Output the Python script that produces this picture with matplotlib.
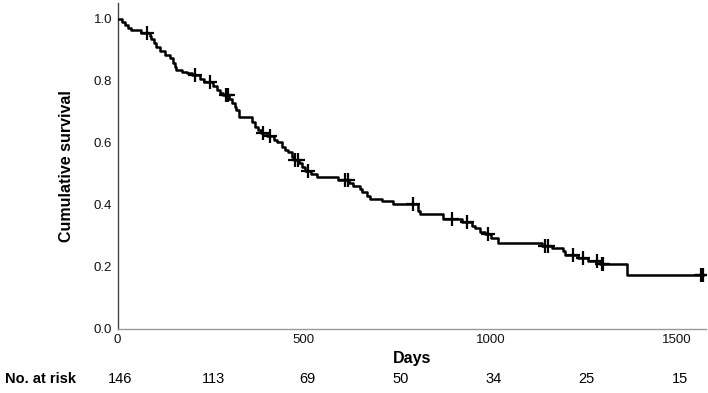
import numpy as np
import matplotlib
matplotlib.use("Agg")
import matplotlib.pyplot as plt
import matplotlib.transforms as mtransforms

plt.rcParams['font.family'] = ['Liberation Sans', 'DejaVu Sans']

# Kaplan-Meier step data (day of event, survival after event)
step_days = [0, 11, 19, 27, 35, 64, 86, 91, 97, 102, 113, 126, 140, 148, 153, 158,
             172, 185, 199, 220, 233, 255, 266, 274, 282, 298, 306, 314, 319, 327,
             360, 368, 378, 386, 400, 419, 427, 440, 448, 456, 467, 472, 488, 496,
             504, 518, 534, 590, 622, 631, 649, 657, 668, 676, 708, 738, 805, 810,
             872, 923, 950, 958, 971, 985, 1003, 1020, 1138, 1164, 1194, 1199,
             1234, 1261, 1293, 1366]
step_surv = [1.0, 0.99, 0.98, 0.97, 0.962, 0.955, 0.945, 0.935, 0.922, 0.91, 0.897,
             0.884, 0.874, 0.858, 0.845, 0.835, 0.829, 0.824, 0.818, 0.806, 0.797,
             0.784, 0.771, 0.762, 0.755, 0.74, 0.729, 0.716, 0.706, 0.684, 0.668,
             0.652, 0.642, 0.632, 0.622, 0.61, 0.603, 0.587, 0.578, 0.571, 0.555,
             0.545, 0.535, 0.523, 0.51, 0.5, 0.49, 0.48, 0.47, 0.46, 0.45, 0.44,
             0.43, 0.42, 0.413, 0.403, 0.38, 0.371, 0.355, 0.345, 0.333, 0.325,
             0.313, 0.305, 0.294, 0.277, 0.268, 0.261, 0.252, 0.239, 0.229, 0.219,
             0.21, 0.174]
last_day = 1570
censor_days = [78, 207, 247, 290, 295, 389, 408, 475, 483, 510, 609, 617, 792, 896,
               936, 993, 1146, 1154, 1221, 1248, 1285, 1299, 1301, 1564, 1570]

risk_days = [0, 250, 500, 750, 1000, 1250, 1500]
risk_counts = [146, 113, 69, 50, 34, 25, 15]

x_ticks = [0, 500, 1000, 1500]
y_ticks = [0.0, 0.2, 0.4, 0.6, 0.8, 1.0]

fig = plt.figure(figsize=(7.08, 3.93), dpi=100)
ax = fig.add_axes([0.166, 0.163, 0.831, 0.829])

sd = list(step_days) + [last_day]
ss = list(step_surv) + [step_surv[-1]]
ax.step(sd, ss, where='post', color='black', lw=1.8, zorder=3)

sd_arr = np.array(step_days)
ss_arr = np.array(step_surv)
cens_surv = [ss_arr[np.searchsorted(sd_arr, d, side='right') - 1] for d in censor_days]
ax.plot(censor_days, cens_surv, linestyle='none', marker='+', markersize=10.5,
        markeredgewidth=1.6, color='black', zorder=4)

ax.set_xlim(0, 1578)
ax.set_ylim(0, 1.05)
ax.set_xticks(x_ticks)
ax.set_xticklabels([str(v) for v in x_ticks])
ax.set_yticks(y_ticks)
ax.set_yticklabels([f"{v:.1f}" for v in y_ticks])
ax.tick_params(length=0, labelsize=9.5, colors='#111111')
ax.tick_params(axis='y', pad=4)
ax.tick_params(axis='x', pad=4)

for s in ['top', 'right']:
    ax.spines[s].set_visible(False)
ax.spines['left'].set_color('#444444')
ax.spines['bottom'].set_color('#999999')
ax.spines['left'].set_linewidth(1.0)
ax.spines['bottom'].set_linewidth(1.0)

ax.set_xlabel('Days', fontsize=11.5, fontweight='bold', labelpad=3)
ax.set_ylabel('Cumulative survival', fontsize=11.5, fontweight='bold', labelpad=14)

trans = mtransforms.blended_transform_factory(ax.transData, fig.transFigure)
for d, c in zip(risk_days, risk_counts):
    fig.text(d + 8, 0.025, str(c), transform=trans, ha='center', va='baseline', fontsize=10.5)
fig.text(0.007, 0.025, 'No. at risk', ha='left', va='baseline', fontsize=10.5, fontweight='bold')

fig.savefig('out.png', dpi=100)
